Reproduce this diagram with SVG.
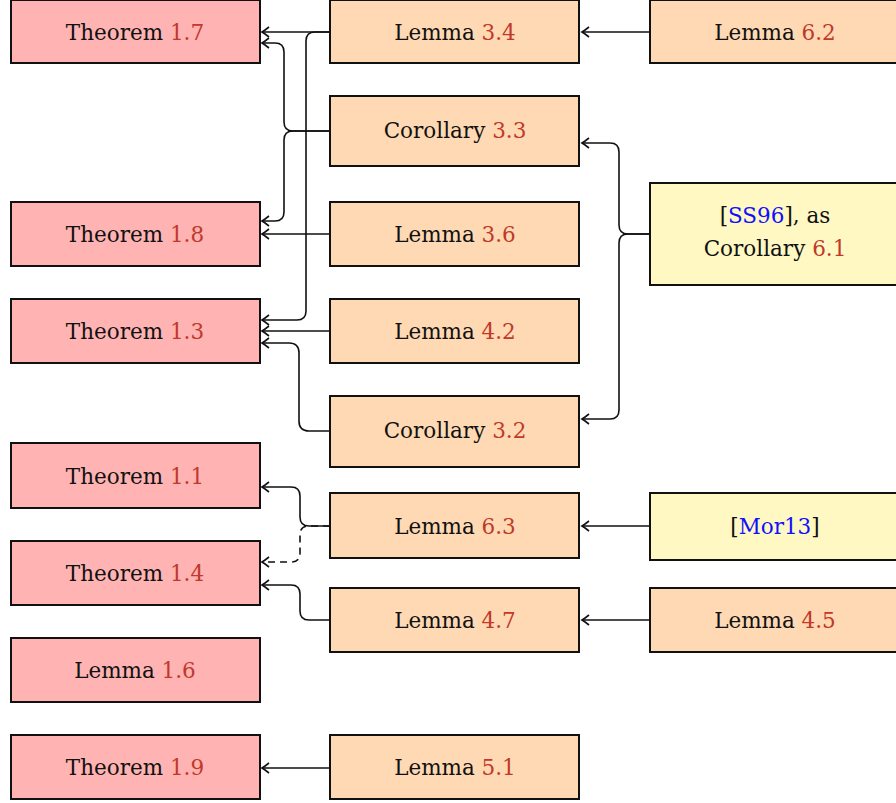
<svg xmlns="http://www.w3.org/2000/svg" width="896" height="803" viewBox="0 0 896 803">
<style>
.t{font-family:"DejaVu Serif","Liberation Serif",serif;font-size:21.5px;fill:#111;text-anchor:middle}
.n{fill:#c0392b}
.c{fill:#1010ff}
.th rect{fill:#ffb3b3;stroke:#111;stroke-width:2}
.lm rect{fill:#ffd9b3;stroke:#111;stroke-width:2}
.ex rect{fill:#fff8c2;stroke:#111;stroke-width:2}
#edges path{fill:none;stroke:#111;stroke-width:1.6;marker-end:url(#arr)}
#edges path.d{stroke-dasharray:7,5}
</style>
<defs>
<marker id="arr" markerUnits="userSpaceOnUse" markerWidth="14" markerHeight="14" viewBox="-10 -7 12 14" refX="0" refY="0" orient="auto">
<path d="M-7,-5 Q-2,-1.2 0,0 Q-2,1.2 -7,5" fill="none" stroke="#111" stroke-width="1.6" stroke-dasharray="none"/>
</marker>
</defs>
<rect width="896" height="803" fill="#fff"/>
<g id="edges">
<path d="M650,32 H582"/>
<path d="M330,32 H262"/>
<path d="M330,32 H315 Q306,32 306,41 V311 Q306,320 297,320 H262"/>
<path d="M330,131 H293 Q284,131 284,122 V52 Q284,43 275,43 H262"/>
<path d="M330,131 H293 Q284,131 284,140 V212 Q284,221 275,221 H262"/>
<path d="M330,234 H262"/>
<path d="M330,331 H262"/>
<path d="M330,431 H309 Q299,431 299,421 V353 Q299,343 289,343 H262"/>
<path d="M650,234 H628 Q619,234 619,225 V152 Q619,143 610,143 H582"/>
<path d="M650,234 H628 Q619,234 619,243 V410 Q619,419 610,419 H582"/>
<path d="M330,526 H309 Q300,526 300,517 V496 Q300,487 291,487 H262"/>
<path class="d" d="M330,526 H309 Q300,526 300,535 V553 Q300,562 291,562 H262"/>
<path d="M330,620 H309 Q300,620 300,611 V594 Q300,585 291,585 H262"/>
<path d="M650,526 H582"/>
<path d="M650,620 H582"/>
<path d="M330,768 H262"/>
</g>
<g id="thm17" class="th"><rect x="11" y="0" width="249" height="63"/><text class="t" x="135" y="40">Theorem <tspan class="n">1.7</tspan></text></g>
<g id="thm18" class="th"><rect x="11" y="202" width="249" height="64"/><text class="t" x="135" y="242">Theorem <tspan class="n">1.8</tspan></text></g>
<g id="thm13" class="th"><rect x="11" y="299" width="249" height="64"/><text class="t" x="135" y="339">Theorem <tspan class="n">1.3</tspan></text></g>
<g id="thm11" class="th"><rect x="11" y="443" width="249" height="65"/><text class="t" x="135" y="484">Theorem <tspan class="n">1.1</tspan></text></g>
<g id="thm14" class="th"><rect x="11" y="541" width="249" height="64"/><text class="t" x="135" y="581">Theorem <tspan class="n">1.4</tspan></text></g>
<g id="lem16" class="th"><rect x="11" y="638" width="249" height="64"/><text class="t" x="135" y="678">Lemma <tspan class="n">1.6</tspan></text></g>
<g id="thm19" class="th"><rect x="11" y="735" width="249" height="64"/><text class="t" x="135" y="775">Theorem <tspan class="n">1.9</tspan></text></g>
<g id="lem34" class="lm"><rect x="330" y="0" width="249" height="63"/><text class="t" x="455" y="40">Lemma <tspan class="n">3.4</tspan></text></g>
<g id="cor33" class="lm"><rect x="330" y="96" width="249" height="70"/><text class="t" x="455" y="138">Corollary <tspan class="n">3.3</tspan></text></g>
<g id="lem36" class="lm"><rect x="330" y="202" width="249" height="64"/><text class="t" x="455" y="242">Lemma <tspan class="n">3.6</tspan></text></g>
<g id="lem42" class="lm"><rect x="330" y="299" width="249" height="64"/><text class="t" x="455" y="339">Lemma <tspan class="n">4.2</tspan></text></g>
<g id="cor32" class="lm"><rect x="330" y="396" width="249" height="71"/><text class="t" x="455" y="438">Corollary <tspan class="n">3.2</tspan></text></g>
<g id="lem63" class="lm"><rect x="330" y="493" width="249" height="65"/><text class="t" x="455" y="534">Lemma <tspan class="n">6.3</tspan></text></g>
<g id="lem47" class="lm"><rect x="330" y="588" width="249" height="64"/><text class="t" x="455" y="628">Lemma <tspan class="n">4.7</tspan></text></g>
<g id="lem51" class="lm"><rect x="330" y="735" width="249" height="64"/><text class="t" x="455" y="775">Lemma <tspan class="n">5.1</tspan></text></g>
<g id="lem62" class="lm"><rect x="650" y="0" width="260" height="63"/><text class="t" x="775" y="40">Lemma <tspan class="n">6.2</tspan></text></g>
<g id="ss96" class="ex"><rect x="650" y="183" width="260" height="102"/><text class="t" x="775" y="223">[<tspan class="c">SS96</tspan>], as</text><text class="t" x="775" y="256">Corollary <tspan class="n">6.1</tspan></text></g>
<g id="mor13" class="ex"><rect x="650" y="493" width="260" height="67"/><text class="t" x="775" y="534">[<tspan class="c">Mor13</tspan>]</text></g>
<g id="lem45" class="lm"><rect x="650" y="588" width="260" height="64"/><text class="t" x="775" y="628">Lemma <tspan class="n">4.5</tspan></text></g>
</svg>
